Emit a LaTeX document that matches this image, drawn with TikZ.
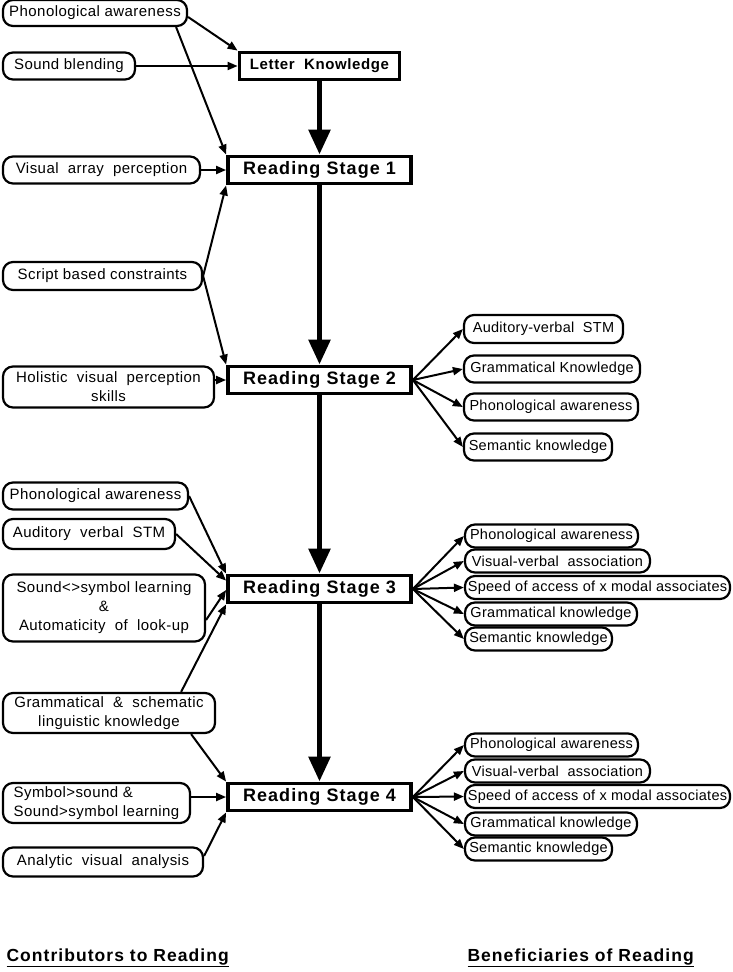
\documentclass[tikz,border=0pt]{standalone}
\usepackage{fontspec}
\setmainfont{Liberation Sans}[LetterSpace=3]
\newfontfamily\stagefont{Liberation Sans}[LetterSpace=6]
\newfontfamily\lkfont{Liberation Sans}[LetterSpace=4]
\newfontfamily\benfont{Liberation Sans}[LetterSpace=2]
\usetikzlibrary{arrows.meta}

\begin{document}
\begin{tikzpicture}[x=1pt, y=-1pt,
  contrib/.style={draw, line width=2.2pt, rounded corners=10pt, align=center,
    inner sep=1pt, font=\fontsize{15}{19}\selectfont},
  benef/.style={draw, line width=2.2pt, rounded corners=10pt, inner sep=1pt,
    minimum height=23pt, font=\benfont\fontsize{14.5}{17}\selectfont},
  stagebox/.style={draw, line width=3.8pt, minimum width=183pt, minimum height=27pt,
    font=\stagefont\bfseries\fontsize{18}{20}\selectfont},
  link/.style={-{Triangle[length=10pt,width=8pt]}, line width=2pt},
  mainlink/.style={-{Triangle[length=25pt,width=21pt]}, line width=5.5pt},
  heading/.style={anchor=west, font=\stagefont\bfseries\fontsize{17.5}{20}\selectfont}
]
  \useasboundingbox (0,0) rectangle (732,972);

  % --- central column ---
  \node[stagebox, minimum width=160pt, font=\lkfont\bfseries\fontsize{15}{17}\selectfont]
    (lk) at (319.5,66) {Letter\ \ Knowledge};
  \node[stagebox] (s1) at (319.5,170) {Reading Stage 1};
  \node[stagebox] (s2) at (319.5,380) {Reading Stage 2};
  \node[stagebox] (s3) at (319.5,589) {Reading Stage 3};
  \node[stagebox] (s4) at (319.5,797) {Reading Stage 4};

  \draw[mainlink] (lk.south) -- (s1.north);
  \draw[mainlink] (s1.south) -- (s2.north);
  \draw[mainlink] (s2.south) -- (s3.north);
  \draw[mainlink] (s3.south) -- (s4.north);

  % --- contributors, letter knowledge and stage 1 ---
  \node[contrib, minimum width=184pt, minimum height=26pt] (pa1) at (95,13) {Phonological awareness};
  \node[contrib, minimum width=132pt, minimum height=27pt] (sb) at (69,66) {Sound blending};
  \node[contrib, minimum width=197pt, minimum height=27pt] (vap) at (101.5,170) {Visual\ \ array\ \ perception};
  \node[contrib, minimum width=199pt, minimum height=28pt] (sbc) at (102.5,276) {Script based constraints};

  \draw[link] ([yshift=-4pt]pa1.east) -- (lk.north west);
  \draw[link] ([xshift=-12pt]pa1.south east) -- (s1.north west);
  \draw[link] (sb.east) -- (lk.west);
  \draw[link] (vap.east) -- (s1.west);
  \draw[link] (sbc.east) -- (s1.south west);
  \draw[link] (sbc.east) -- (s2.north west);

  % --- stage 2 ---
  \node[contrib, minimum width=211pt, minimum height=41pt] (hvp) at (108.5,387)
    {Holistic\ \ visual\ \ perception\\skills};
  \draw[link] ([yshift=7pt]hvp.east) -- (s2.west);

  \node[benef, minimum width=159pt, minimum height=28pt] (b21) at (543.5,329) {Auditory-verbal\ \ STM};
  \node[benef, minimum width=176pt, minimum height=27pt] (b22) at (552,369) {Grammatical Knowledge};
  \node[benef, minimum width=174pt, minimum height=27pt] (b23) at (551,407) {Phonological awareness};
  \node[benef, minimum width=148pt, minimum height=27pt] (b24) at (538,447) {Semantic knowledge};
  \foreach \b in {b21,b22,b23,b24}
    \draw[link] (s2.east) -- (\b.west);

  % --- stage 3 ---
  \node[contrib, minimum width=185pt, minimum height=27pt] (pa3) at (95.5,496) {Phonological awareness};
  \node[contrib, minimum width=172pt, minimum height=30pt] (avs) at (89,534) {Auditory\ \ verbal\ \ STM};
  \node[contrib, minimum width=202pt, minimum height=67pt] (ssl) at (104,608)
    {Sound<>symbol learning\\\&\\Automaticity\ \ of\ \ look-up};
  \node[contrib, minimum width=212pt, minimum height=40pt] (gsk) at (109,713)
    {Grammatical\ \ \&\ \ schematic\\linguistic knowledge};

  \draw[link] (pa3.east) -- (s3.north west);
  \draw[link] (avs.east) -- ([yshift=-7pt]s3.north west);
  \draw[link] ([yshift=-12pt]ssl.east) -- ([yshift=-1pt]s3.west);
  \draw[link] ([xshift=-35pt]gsk.north east) -- (s3.south west);

  \node[benef, minimum width=173pt] (b31) at (551.5,536) {Phonological awareness};
  \node[benef, minimum width=185pt] (b32) at (557.5,561) {Visual-verbal\ \ association};
  \node[benef, minimum width=265pt] (b33) at (597.5,587.5) {Speed of access of x modal associates};
  \node[benef, minimum width=172pt] (b34) at (551,614) {Grammatical knowledge};
  \node[benef, minimum width=147pt] (b35) at (538.5,639) {Semantic knowledge};
  \foreach \b in {b31,b32,b33,b34,b35}
    \draw[link] (s3.east) -- (\b.west);

  % --- stage 4 ---
  \node[contrib, minimum width=187pt, minimum height=40pt, align=left] (ssd) at (96.5,803)
    {Symbol>sound \&\\Sound>symbol learning};
  \node[contrib, minimum width=200pt, minimum height=29pt] (ava) at (103,862) {Analytic\ \ visual\ \ analysis};

  \draw[link] ([xshift=-25pt]gsk.south east) -- (s4.north west);
  \draw[link] ([yshift=6pt]ssd.east) -- (s4.west);
  \draw[link] ([yshift=6pt]ava.east) -- (s4.south west);

  \node[benef, minimum width=173pt] (b41) at (551.5,745) {Phonological awareness};
  \node[benef, minimum width=185pt] (b42) at (557.5,771) {Visual-verbal\ \ association};
  \node[benef, minimum width=265pt] (b43) at (597.5,796.5) {Speed of access of x modal associates};
  \node[benef, minimum width=172pt] (b44) at (551,824) {Grammatical knowledge};
  \node[benef, minimum width=147pt] (b45) at (538.5,849) {Semantic knowledge};
  \foreach \b in {b41,b42,b43,b44,b45}
    \draw[link] (s4.east) -- (\b.west);

  % --- column headings ---
  \node[heading] (contr) at (3,958) {\underline{Contributors to Reading}};
  \node[heading] (benf) at (464,958) {\underline{Beneficiaries of Reading}};

\end{tikzpicture}
\end{document}
